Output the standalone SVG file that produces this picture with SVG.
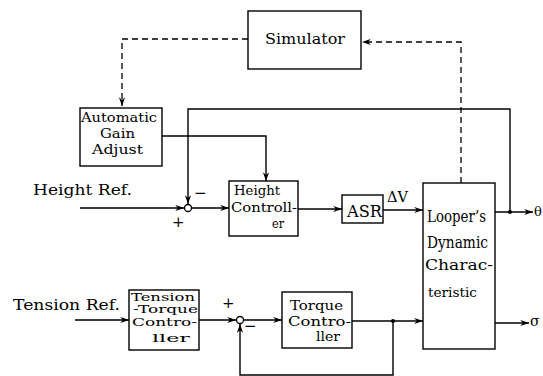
<svg xmlns="http://www.w3.org/2000/svg" width="543" height="376" viewBox="0 0 543 376">
<defs>
<style>
.box{fill:#fff;stroke:#000;stroke-width:1.4}
.ln{fill:none;stroke:#000;stroke-width:1.4}
.ds{fill:none;stroke:#000;stroke-width:1.3;stroke-dasharray:6 4}
.t{font-size:15px;fill:#000}
.m{font-size:13.5px}
.sm{font-size:12.5px}
.xs{font-size:11px}
</style>
<marker id="ar" viewBox="0 0 10 8" refX="10" refY="4" markerWidth="9" markerHeight="7" markerUnits="userSpaceOnUse" orient="auto">
<path d="M0,0.5 L10,4 L0,7.5 L3,4 Z" fill="#000"/>
</marker>
</defs>
<rect width="543" height="376" fill="#fff"/>

<g id="connectors">
<path class="ds" d="M248 39 H122 V106" marker-end="url(#ar)"/>
<path class="ds" d="M461 183 V42 H362" marker-end="url(#ar)"/>
<path class="ln" d="M80 208 H184" marker-end="url(#ar)"/>
<path class="ln" d="M191.5 208 H229" marker-end="url(#ar)"/>
<path class="ln" d="M162 136 H266 V181" marker-end="url(#ar)"/>
<path class="ln" d="M510 212 V109 H188 V204" marker-end="url(#ar)"/>
<path class="ln" d="M298 209 H342" marker-end="url(#ar)"/>
<path class="ln" d="M383 210 H423" marker-end="url(#ar)"/>
<path class="ln" d="M495 212 H533" marker-end="url(#ar)"/>
<circle cx="510" cy="212" r="2" fill="#000"/>
<path class="ln" d="M75 320 H129" marker-end="url(#ar)"/>
<path class="ln" d="M199 320 H236" marker-end="url(#ar)"/>
<path class="ln" d="M243.5 320 H282" marker-end="url(#ar)"/>
<path class="ln" d="M352 321 H423" marker-end="url(#ar)"/>
<circle cx="393" cy="321" r="2" fill="#000"/>
<path class="ln" d="M393 321 V375 H240 V324" marker-end="url(#ar)"/>
<path class="ln" d="M495 323 H529" marker-end="url(#ar)"/>
</g>

<g font-family="DejaVu Serif, Liberation Serif, serif">
<g id="simulator">
<rect class="box" x="248" y="11" width="113" height="58"/>
<text class="t" x="265" y="43.5" textLength="80" lengthAdjust="spacingAndGlyphs">Simulator</text>
</g>

<g id="aga">
<rect class="box" x="80" y="108" width="82" height="58"/>
<text class="t m" x="81" y="122" textLength="76" lengthAdjust="spacingAndGlyphs">Automatic</text>
<text class="t m" x="100" y="138" textLength="35" lengthAdjust="spacingAndGlyphs">Gain</text>
<text class="t m" x="92" y="154" textLength="51" lengthAdjust="spacingAndGlyphs">Adjust</text>
</g>

<g id="height-ref">
<text class="t" x="33" y="195" textLength="99" lengthAdjust="spacingAndGlyphs">Height Ref.</text>
</g>

<g id="sum1">
<circle cx="188" cy="208" r="3.5" fill="#fff" stroke="#000" stroke-width="1.3"/>
<text class="t" x="172" y="227">+</text>
<text class="t" x="194" y="198">−</text>
</g>

<g id="height-controller">
<rect class="box" x="229" y="181" width="69" height="55"/>
<text class="t m" x="234" y="195" textLength="46" lengthAdjust="spacingAndGlyphs">Height</text>
<text class="t m" x="231" y="212" textLength="66" lengthAdjust="spacingAndGlyphs">Controll-</text>
<text class="t sm" x="272" y="228" textLength="12" lengthAdjust="spacingAndGlyphs">er</text>
</g>

<g id="asr">
<rect class="box" x="342" y="195" width="41" height="28"/>
<text class="t" x="347" y="217" style="font-size:17px" textLength="35" lengthAdjust="spacingAndGlyphs">ASR</text>
<text class="t" x="387" y="202" style="font-size:15px" textLength="21" lengthAdjust="spacingAndGlyphs">ΔV</text>
</g>

<g id="looper">
<rect class="box" x="423" y="183" width="72" height="166"/>
<text class="t" x="427" y="222" style="font-size:16px" textLength="59" lengthAdjust="spacingAndGlyphs">Looper’s</text>
<text class="t" x="427" y="248" style="font-size:16px" textLength="61" lengthAdjust="spacingAndGlyphs">Dynamic</text>
<text class="t" x="425" y="270" textLength="68" lengthAdjust="spacingAndGlyphs">Charac-</text>
<text class="t sm" x="428" y="297" textLength="49" lengthAdjust="spacingAndGlyphs">teristic</text>
</g>

<g id="outputs">
<text class="t" x="534" y="216" style="font-size:13px">θ</text>
<text class="t" x="530" y="326" style="font-size:14px">σ</text>
</g>

<g id="tension-ref">
<text class="t" x="13" y="310" textLength="107" lengthAdjust="spacingAndGlyphs">Tension Ref.</text>
</g>

<g id="tension-torque-controller">
<rect class="box" x="129" y="290" width="70" height="60"/>
<text class="t xs" x="131" y="301" textLength="64" lengthAdjust="spacingAndGlyphs">Tension</text>
<text class="t xs" x="133" y="313" textLength="65" lengthAdjust="spacingAndGlyphs">-Torque</text>
<text class="t xs" x="132" y="326" textLength="65" lengthAdjust="spacingAndGlyphs">Contro-</text>
<text class="t xs" x="152" y="342" textLength="38" lengthAdjust="spacingAndGlyphs">ller</text>
</g>

<g id="sum2">
<circle cx="240" cy="320" r="3.5" fill="#fff" stroke="#000" stroke-width="1.3"/>
<text class="t" x="222" y="308">+</text>
<text class="t" x="244" y="331">−</text>
</g>

<g id="torque-controller">
<rect class="box" x="282" y="292" width="70" height="56"/>
<text class="t m" x="290" y="310" textLength="53" lengthAdjust="spacingAndGlyphs">Torque</text>
<text class="t m" x="288" y="326" textLength="63" lengthAdjust="spacingAndGlyphs">Contro-</text>
<text class="t sm" x="316" y="341" textLength="24" lengthAdjust="spacingAndGlyphs">ller</text>
</g>
</g>
</svg>
